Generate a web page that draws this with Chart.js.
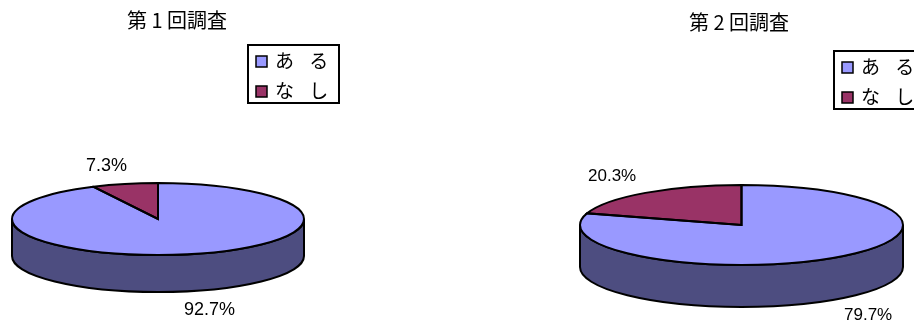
<!DOCTYPE html>
<html lang="ja">
<head>
<meta charset="utf-8">
<title>調査</title>
<script src="https://cdn.jsdelivr.net/npm/chart.js@4/dist/chart.umd.min.js"></script>
<style>
  html, body { margin: 0; background: #fff; overflow: hidden; }
  #wrap { position: relative; width: 914px; height: 325px; }
  canvas { position: absolute; top: 0; }
</style>
</head>
<body>
<div id="wrap">
  <canvas id="chart1" width="354" height="325" style="left:0"></canvas>
  <canvas id="chart2" width="350" height="325" style="left:564px"></canvas>
</div>
<script>
const categories = ['あ る', 'な し']
const valuesFirst = [92.7, 7.3]
const valuesSecond = [79.7, 20.3]

const SLICE_COLORS = ['#9999ff', '#993366']
const WALL_COLORS = ['#4d4d80', '#4d1a33']
const FONT_JP = "'Noto Sans CJK JP', 'Noto Sans', sans-serif"
const FONT_NUM = "'Liberation Sans', Arial, sans-serif"

// Chart.js only draws round pies, so squash the arcs and add the side wall here
const pie3d = {
  id: 'pie3d',
  beforeDatasetsDraw(chart, args, opts) {
    const ctx = chart.ctx
    const arcs = chart.getDatasetMeta(0).data
    const rx = arcs[0].outerRadius
    ctx.save()
    ctx.lineWidth = opts.line
    ctx.strokeStyle = '#000'
    arcs.forEach(function(arc, i) {
      // only the part of the slice on the front half has a visible wall
      for (const shift of [0, Math.PI * 2]) {
        const a0 = Math.max(arc.startAngle - shift, 0)
        const a1 = Math.min(arc.endAngle - shift, Math.PI)
        if (a1 <= a0) continue
        ctx.beginPath()
        ctx.ellipse(opts.cx, opts.cy, rx, opts.ry, 0, a0, a1)
        ctx.ellipse(opts.cx, opts.cy + opts.depth, rx, opts.ry, 0, a1, a0, true)
        ctx.closePath()
        ctx.fillStyle = WALL_COLORS[i]
        ctx.fill()
        ctx.stroke()
      }
    })
    ctx.restore()
  },
  beforeDatasetDraw(chart, args, opts) {
    const ctx = chart.ctx
    const arc = chart.getDatasetMeta(0).data[0]
    ctx.save()
    ctx.translate(opts.cx, opts.cy)
    ctx.scale(1, opts.ry / arc.outerRadius)
    ctx.translate(-arc.x, -arc.y)
  },
  afterDatasetDraw(chart) {
    chart.ctx.restore()
  },
  afterDatasetsDraw(chart, args, opts) {
    const ctx = chart.ctx
    const arcs = chart.getDatasetMeta(0).data
    ctx.save()
    ctx.lineWidth = opts.line
    ctx.strokeStyle = '#000'
    arcs.forEach(function(arc) {
      ctx.beginPath()
      ctx.moveTo(opts.cx, opts.cy)
      ctx.ellipse(opts.cx, opts.cy, arc.outerRadius, opts.ry, 0, arc.startAngle, arc.endAngle)
      ctx.closePath()
      ctx.stroke()
    })

    // percentage labels
    ctx.fillStyle = '#000'
    ctx.font = opts.labelSize + 'px ' + FONT_NUM
    ctx.textBaseline = 'middle'
    chart.data.datasets[0].data.forEach(function(v, i) {
      const p = opts.labelPos[i]
      ctx.fillText(v + '%', p[0], p[1])
    })

    // legend box
    const b = opts.box
    ctx.lineWidth = 2
    ctx.fillStyle = '#fff'
    ctx.fillRect(b[0], b[1], b[2], b[3])
    ctx.strokeRect(b[0], b[1], b[2], b[3])
    ctx.font = '19px ' + FONT_JP
    ctx.wordSpacing = '11px'
    chart.data.labels.forEach(function(label, i) {
      const y = b[1] + opts.rowY[i]
      ctx.fillStyle = SLICE_COLORS[i]
      ctx.fillRect(b[0] + 8, y - 5, 11, 11)
      ctx.lineWidth = 1.5
      ctx.strokeRect(b[0] + 8, y - 5, 11, 11)
      ctx.fillStyle = '#000'
      ctx.fillText(label, b[0] + 27, y)
    })
    ctx.restore()
  }
}

function crearPie(id, titulo, values, radius, titleTop, opts) {
  return new Chart(document.getElementById(id), {
    type: 'pie',
    data: {
      labels: categories,
      datasets: [{
        data: values,
        backgroundColor: SLICE_COLORS,
        borderWidth: 0,
        radius: radius,
        clip: false,
      }]
    },
    options: {
      responsive: false,
      animation: false,
      plugins: {
        legend: { display: false },
        tooltip: { enabled: false },
        title: {
          display: true,
          text: titulo,
          color: '#000',
          font: { family: FONT_JP, size: 20, weight: 'normal' },
          padding: { top: titleTop, bottom: 0 },
        },
        pie3d: opts,
      }
    },
    plugins: [pie3d]
  })
}

crearPie('chart1', '第 1 回調査', valuesFirst, 146, 8, {
  cx: 158, cy: 219, ry: 36, depth: 37, line: 2, labelSize: 18,
  labelPos: [[184, 310], [86, 166]],
  box: [248, 45, 91, 58], rowY: [16, 46],
})

crearPie('chart2', '第 2 回調査', valuesSecond, 161.5, 10, {
  cx: 177.5, cy: 225, ry: 40, depth: 42, line: 2, labelSize: 17,
  labelPos: [[280, 315], [24, 176]],
  box: [270, 51, 91, 58], rowY: [16, 46],
})
</script>
</body>
</html>
